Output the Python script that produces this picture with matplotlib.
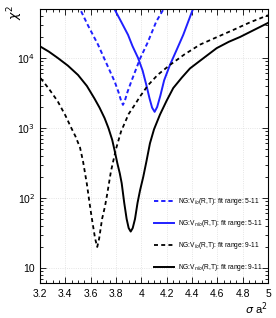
import numpy as np
import matplotlib
matplotlib.use("Agg")
import matplotlib.pyplot as plt
from matplotlib.ticker import MultipleLocator, LogLocator, FixedLocator, NullFormatter

plt.rcParams['font.family'] = ['Liberation Sans', 'DejaVu Sans']

# chi^2 scans (x = sigma a^2, y = log10 chi^2)
x_lo_5 = [3.50, 3.513, 3.58, 3.658, 3.72, 3.79, 3.82, 3.84, 3.855, 3.87, 3.89, 3.92, 3.99, 4.05, 4.118, 4.173, 4.19]
ly_lo_5 = [4.76, 4.71, 4.46, 4.19, 3.94, 3.66, 3.51, 3.39, 3.33, 3.39, 3.51, 3.66, 3.99, 4.22, 4.52, 4.69, 4.76]

x_nlo_5 = [3.77, 3.784, 3.84, 3.895, 3.93, 3.974, 4.01, 4.04, 4.065, 4.085, 4.105, 4.125, 4.15, 4.18, 4.226,
           4.28, 4.331, 4.41, 4.43]
ly_nlo_5 = [4.77, 4.71, 4.52, 4.33, 4.17, 4.00, 3.82, 3.61, 3.42, 3.29, 3.23, 3.30, 3.46, 3.68, 3.90,
            4.12, 4.33, 4.71, 4.78]

x_lo_9 = [3.205, 3.27, 3.34, 3.40, 3.447, 3.48, 3.516, 3.54, 3.57, 3.595, 3.61, 3.635, 3.652, 3.667, 3.69,
          3.713, 3.73, 3.76, 3.80, 3.84, 3.90, 3.948, 3.99, 4.053, 4.13, 4.226, 4.34, 4.463, 4.60, 4.726,
          4.86, 5.0]
ly_lo_9 = [3.71, 3.56, 3.38, 3.18, 3.00, 2.88, 2.72, 2.52, 2.20, 1.88, 1.70, 1.42, 1.30, 1.42, 1.70,
           1.88, 2.05, 2.38, 2.70, 2.95, 3.20, 3.33, 3.45, 3.61, 3.76, 3.90, 4.05, 4.19, 4.30, 4.40,
           4.51, 4.61]

x_nlo_9 = [3.205, 3.27, 3.34, 3.42, 3.50, 3.57, 3.63, 3.67, 3.71, 3.74, 3.77, 3.79, 3.81, 3.83, 3.845,
           3.865, 3.884, 3.90, 3.916, 3.932, 3.95, 3.97, 3.99, 4.015, 4.04, 4.068, 4.10, 4.147, 4.20,
           4.252, 4.32, 4.384, 4.50, 4.595, 4.69, 4.78, 4.89, 5.0]
ly_nlo_9 = [4.16, 4.09, 4.00, 3.89, 3.757, 3.60, 3.42, 3.29, 3.14, 3.00, 2.83, 2.67, 2.50, 2.35, 2.21,
            1.93, 1.70, 1.57, 1.52, 1.57, 1.70, 1.93, 2.11, 2.30, 2.52, 2.78, 2.98, 3.19, 3.39,
            3.57, 3.72, 3.85, 4.01, 4.14, 4.23, 4.30, 4.40, 4.50]

labels = [r'NG:V$_{lo}$(R,T): fit range: 5-11',
          r'NG:V$_{nlo}$(R,T): fit range: 5-11',
          r'NG:V$_{lo}$(R,T): fit range: 9-11',
          r'NG:V$_{nlo}$(R,T): fit range: 9-11']

fig = plt.figure(figsize=(2.76, 3.18), dpi=100)
ax = fig.add_axes([40/276, 1-283/318, 228/276, 274/318])

ax.plot(x_lo_5, 10**np.array(ly_lo_5), color='#2020ff', lw=1.4, ls=(0, (2.2, 1.5)), label=labels[0])
ax.plot(x_nlo_5, 10**np.array(ly_nlo_5), color='#2020ff', lw=1.4, label=labels[1])
ax.plot(x_lo_9, 10**np.array(ly_lo_9), color='black', lw=1.3, ls=(0, (2.2, 1.8)), label=labels[2])
ax.plot(x_nlo_9, 10**np.array(ly_nlo_9), color='black', lw=1.4, label=labels[3])

ax.set_yscale('log')
ax.set_xlim(3.2, 5.0)
ax.set_ylim(6.1, 5.0e4)

ax.set_xticks(np.arange(3.2, 5.01, 0.2))
ax.set_xticklabels(['3.2', '3.4', '3.6', '3.8', '4', '4.2', '4.4', '4.6', '4.8', '5'])
ax.xaxis.set_minor_locator(MultipleLocator(0.05))
ax.yaxis.set_major_locator(FixedLocator([10, 100, 1000, 10000]))
ax.set_yticklabels(['10', r'10$^2$', r'10$^3$', r'10$^4$'])
ax.yaxis.set_minor_locator(LogLocator(base=10, subs=np.arange(2, 10)))
ax.yaxis.set_minor_formatter(NullFormatter())

ax.tick_params(which='both', direction='in', top=True, right=True, labelsize=7.5, width=0.6)
ax.tick_params(which='major', length=4)
ax.tick_params(which='minor', length=2)
ax.tick_params(axis='x', pad=4)
for s in ax.spines.values():
    s.set_linewidth(0.8)

ax.grid(True, which='major', color='#dddddd', ls=':', lw=0.6)

ax.set_xlabel(r'$\sigma$ a$^2$', fontsize=8, loc='right', labelpad=1)
fig.text(15/276, 1-12/318, r'$\chi^2$', fontsize=9, rotation=90, ha='center', va='center')

ax.legend(loc='lower right', frameon=False, fontsize=4.8, labelspacing=1.65,
          handlelength=3.0, handletextpad=0.6, borderaxespad=0.0,
          bbox_to_anchor=(0.99, 0.025))

fig.savefig('out.png', dpi=100)
